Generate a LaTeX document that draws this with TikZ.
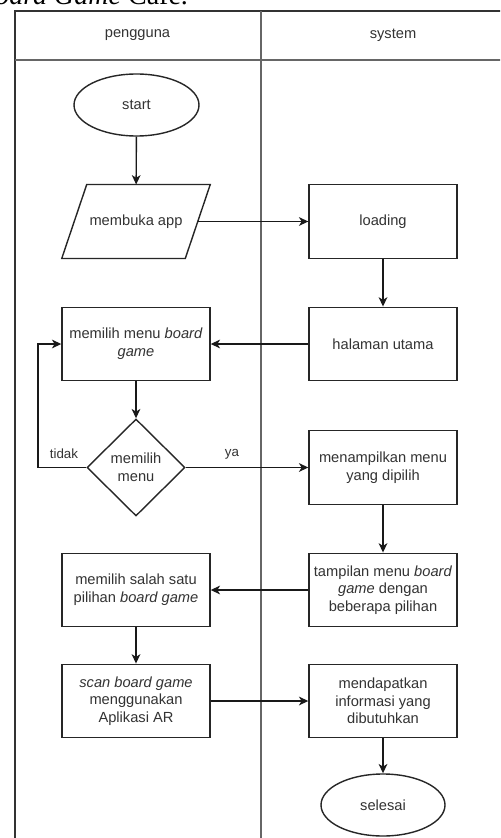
\documentclass[tikz,border=0pt]{standalone}
\usepackage{fontspec}
\setmainfont{Liberation Sans}
\newfontfamily\titleserif{Liberation Serif}
\usetikzlibrary{shapes.geometric,arrows.meta,calc}

\begin{document}
\begin{tikzpicture}[x=0.75pt,y=-0.75pt,
  font=\fontsize{11}{13.2}\selectfont,
  box/.style={draw=black!85, line width=1.05pt, minimum width=148*0.75pt, minimum height=73.5*0.75pt, inner sep=0pt, align=center, text=black!80},
  plain/.style={minimum width=148*0.75pt, minimum height=73.5*0.75pt, inner sep=0pt, align=center, text=black!80},
  term/.style={draw=black!85, line width=1.05pt, ellipse, inner sep=0pt, minimum width=125*0.75pt, minimum height=62*0.75pt, text=black!80},
  dec/.style={draw=black!85, line width=1.05pt, diamond, inner sep=0pt, minimum width=98*0.75pt, minimum height=97*0.75pt, align=center, text=black!80},
  arr/.style={draw=black!90, line width=1.05pt, -{Stealth[length=7pt,width=6.5pt,inset=2pt]}},
  lane/.style={draw=black!80, line width=1.5pt},
  divider/.style={draw=black!60, line width=2pt},
  lbl/.style={text=black!80, font=\fontsize{10}{12}\selectfont, inner sep=0pt}
]
\useasboundingbox (0,0) rectangle (500,838);
\clip (0,0) rectangle (500,838);
\fill[white] (0,0) rectangle (500,838);

% cropped caption above the diagram (cut at the top edge, as in the reference)
\node[anchor=base west, inner sep=0pt, font=\titleserif\fontsize{21}{25}\selectfont] (caption) at (-22,5) {\textit{Board Game} Cafe.};

% swimlane frame
\coordinate (fTL) at (14.5,11);
\coordinate (fTR) at (530,11);
\coordinate (fBL) at (14.5,850);
\coordinate (hL) at (14.5,60);
\coordinate (hR) at (530,60);
\coordinate (dT) at (261,11);
\coordinate (dB) at (261,850);
\draw[lane] (fBL) -- (fTL) -- (fTR);
\draw[divider] (hL) -- (hR);
\draw[divider] (dT) -- (dB);
\node[text=black!80] (h1) at (137.5,35.5) {pengguna};
\node[text=black!80] (h2) at (393,35.5) {system};

% nodes
\node[term] (start) at (136.5,105) {start};
\node[plain] (open) at (136,221.5) {membuka app};
\draw[draw=black!85, line width=1.05pt] (open.south west) -- ($(open.north west)+(25,0)$) -- (open.north east) -- ($(open.south east)+(-25,0)$) -- cycle;
\coordinate (openR) at ($(open.east)+(-12,0)$);
\node[box] (loading) at (383,221.5) {loading};
\node[box] (home) at (383,344) {halaman utama};
\node[box] (pick) at (136,344) {memilih menu \textit{board}\\\textit{game}};
\node[dec] (choose) at (136,467.5) {memilih\\menu};
\node[box] (show) at (383,467.5) {menampilkan menu\\yang dipilih};
\node[box] (list) at (383,590) {tampilan menu \textit{board}\\\textit{game} dengan\\beberapa pilihan};
\node[box] (one) at (136,590) {memilih salah satu\\pilihan \textit{board game}};
\node[box] (scan) at (136,701) {\textit{scan board game}\\menggunakan\\Aplikasi AR};
\node[box] (info) at (383,701) {mendapatkan\\informasi yang\\dibutuhkan};
\node[term, minimum width=124*0.75pt] (end) at (383,805) {selesai};

% connectors
\draw[arr] (start) -- (open);
\draw[arr] (openR) -- (loading);
\draw[arr] (loading) -- (home);
\draw[arr] (home) -- (pick);
\draw[arr] (pick) -- (choose);
\coordinate (loopC) at (38,467.5);
\draw[arr] (choose.west) -- (loopC) |- (pick.west);
\draw[arr] (choose.east) -- (show.west);
\draw[arr] (show) -- (list);
\draw[arr] (list) -- (one);
\draw[arr] (one) -- (scan);
\draw[arr] (scan) -- (info);
\draw[arr] (info) -- (end);

% edge labels
\node[lbl] (no) at (64,454) {tidak};
\node[lbl] (yes) at (232,454) {ya};
\end{tikzpicture}
\end{document}
